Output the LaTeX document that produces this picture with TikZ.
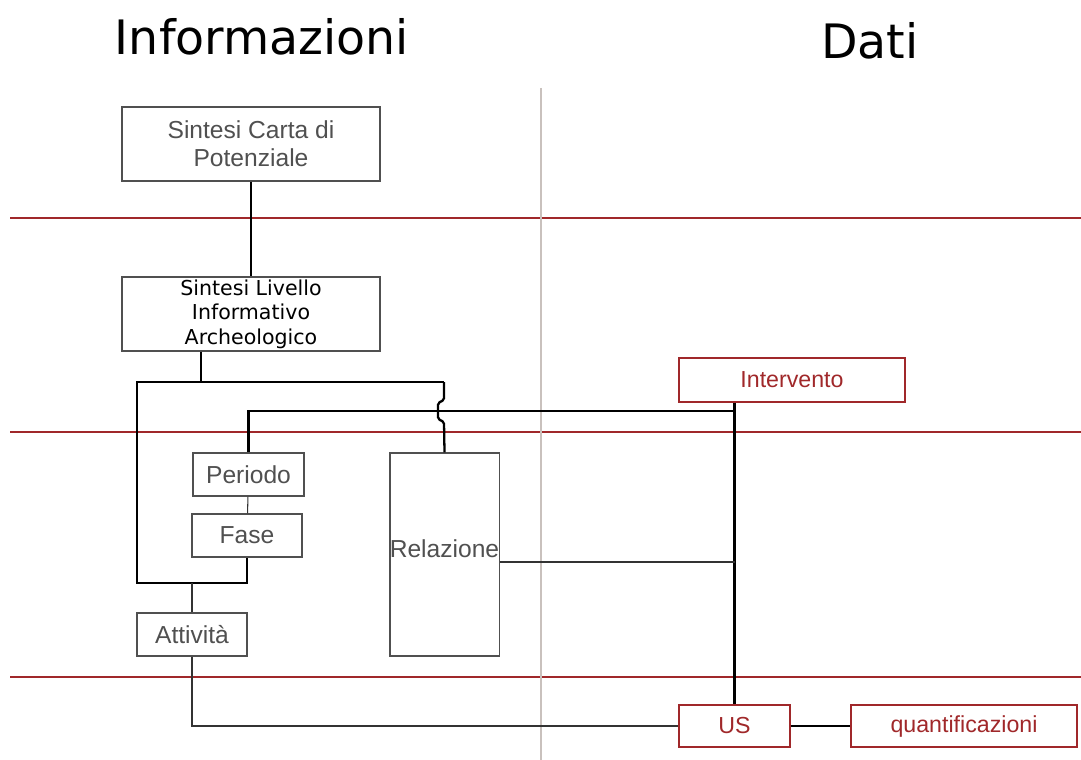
\documentclass[tikz,border=0pt]{standalone}
\usepackage{fontspec}
\setmainfont{Liberation Sans}
\newfontfamily\dejavu{DejaVu Sans}
\definecolor{rosso}{HTML}{A0282A}
\definecolor{grigio}{HTML}{505050}
\definecolor{divisore}{HTML}{C9C1BD}

\begin{document}
\begin{tikzpicture}[x=0.02cm,y=-0.02cm,
    infobox/.style={draw=grigio,line width=0.8pt,text=grigio,inner sep=0pt,align=center,
      font=\fontsize{14}{16}\selectfont},
    datobox/.style={draw=rosso,line width=0.8pt,text=rosso,inner sep=0pt,align=center,
      font=\fontsize{13.2}{16}\selectfont},
    conn/.style={line width=1.3pt,black},
    thinconn/.style={line width=0.6pt,black!80},
    fascia/.style={rosso,line width=0.8pt}]
\useasboundingbox (0,0) rectangle (1081,760);

% titoli
\node [font=\dejavu\fontsize{27}{32}\selectfont] (tinfo) at (262,37) {Informazioni};
\node [font=\dejavu\fontsize{27}{32}\selectfont] (tdati) at (870,41) {Dati};

% fasce e divisore
\draw [fascia,line width=1.4pt] (10,218) -- (1081,218);
\draw [fascia] (10,432) -- (1081,432);
\draw [fascia] (10,677) -- (1081,677);
\draw [divisore,line width=1.4pt] (541,88) -- (541,760);

% informazioni
\node [infobox,minimum width=5.16cm,minimum height=1.48cm] (carta) at (251,144) {Sintesi Carta di\\Potenziale};
\node [infobox,minimum width=5.16cm,minimum height=1.48cm,text=black,
  font=\dejavu\fontsize{11.7}{14}\selectfont] (livello) at (251,314) {Sintesi Livello\\Informativo\\Archeologico};
\node [infobox,minimum width=2.22cm,minimum height=0.86cm] (periodo) at (248.5,474.5) {Periodo};
\node [infobox,minimum width=2.2cm,minimum height=0.86cm] (fase) at (247,535.5) {Fase};
\node [infobox,minimum width=2.2cm,minimum height=0.86cm] (attivita) at (192,634.5) {Attività};
\node [infobox,minimum width=2.18cm,minimum height=4.06cm] (relazione) at (444.5,554.5) {Relazione\\[-9pt]};

% dati
\node [datobox,minimum width=4.52cm,minimum height=0.88cm] (intervento) at (792,380) {Intervento};
\node [datobox,minimum width=2.22cm,minimum height=0.84cm] (us) at (734.5,726) {US};
\node [datobox,minimum width=4.52cm,minimum height=0.84cm] (quant) at (964,726) {quantificazioni};

\coordinate (tap) at (201,382);
\coordinate (topL) at (137,382);
\coordinate (topR) at (444,382);
\coordinate (botL) at (137,583);
\coordinate (bus) at (735,411);

\draw [conn] (carta) -- (livello);
\draw [conn] (livello.south -| tap) -- (tap);
\draw [conn] (topR) -- (topL) -- (botL) -| (fase.south);
\draw [thinconn] (periodo) -- (fase);
\draw [thinconn] (attivita.north) -- (attivita.north |- botL);
\draw [conn,rounded corners=1pt] (topR) -- ++(0,18) -- ++(-6,3) -- ++(0,16) -- ++(6,3) -- (relazione.north);
\draw [conn] (periodo.north) |- (bus);
\draw [conn] (intervento.south -| us.north) -- (us.north);
\draw [thinconn] ([yshift=-0.15cm]relazione.east) -- ([yshift=-0.15cm]relazione.east -| us.north);
\draw [thinconn] (attivita.south) |- (us.west);
\draw [conn] (us) -- (quant);
\end{tikzpicture}
\end{document}
